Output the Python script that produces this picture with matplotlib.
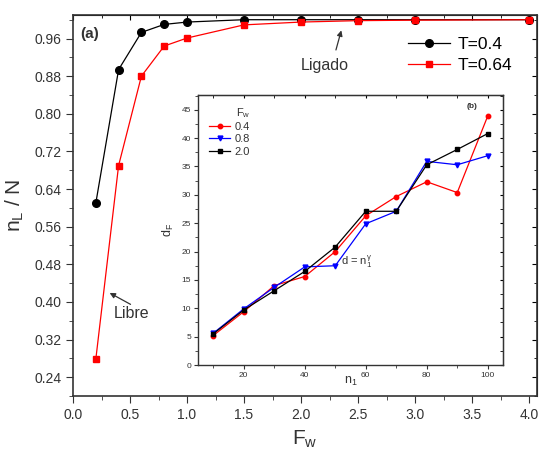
import matplotlib
matplotlib.use("Agg")
import matplotlib.pyplot as plt
from matplotlib.ticker import MultipleLocator

plt.rcParams['font.family'] = ['Liberation Sans', 'DejaVu Sans']
plt.rcParams['mathtext.default'] = 'regular'

# main panel: fraction of bound monomers vs force
fw = [0.2, 0.4, 0.6, 0.8, 1.0, 1.5, 2.0, 2.5, 3.0, 4.0]
nl_t04 = [0.61, 0.894, 0.973, 0.99, 0.995, 1.0, 1.0, 1.0, 1.0, 1.0]
nl_t064 = [0.278, 0.69, 0.88, 0.944, 0.961, 0.989, 0.995, 0.998, 0.999, 1.0]

# inset: d_F vs n_1 for several forces
n1 = [10, 20, 30, 40, 50, 60, 70, 80, 90, 100]
df_04 = [5.2, 9.4, 14.0, 15.6, 20.0, 26.3, 29.7, 32.3, 30.4, 43.9]
df_08 = [5.6, 9.9, 13.7, 17.3, 17.5, 24.9, 27.1, 35.9, 35.3, 36.9]
df_20 = [5.5, 9.7, 13.1, 16.5, 20.8, 27.1, 27.1, 35.3, 38.0, 40.8]

fig = plt.figure(figsize=(5.39, 4.51), dpi=100)
ax = fig.add_axes([73/539, 1-396/451, 464/539, 381/451])

ax.plot(fw, nl_t04, '-o', color='black', lw=0.9, ms=5.5, label='T=0.4')
ax.plot(fw, nl_t064, '-s', color='red', lw=0.9, ms=5, label='T=0.64')

ax.set_xlim(0, 4.07)
ax.set_ylim(0.2, 1.01)
ax.xaxis.set_major_locator(MultipleLocator(0.5))
ax.xaxis.set_minor_locator(MultipleLocator(0.25))
ax.yaxis.set_major_locator(MultipleLocator(0.08))
ax.yaxis.set_minor_locator(MultipleLocator(0.04))
ax.set_yticks([0.24, 0.32, 0.40, 0.48, 0.56, 0.64, 0.72, 0.80, 0.88, 0.96])
ax.tick_params(which='both', direction='out', labelsize=10, colors='#333333')
ax.tick_params(which='major', length=5)
ax.tick_params(which='minor', length=3)
for s in ax.spines.values():
    s.set_linewidth(1.2)
    s.set_color('#333333')

# inward ticks on top and right
axt = ax.secondary_xaxis('top')
axt.xaxis.set_major_locator(MultipleLocator(0.5))
axt.xaxis.set_minor_locator(MultipleLocator(0.25))
axt.tick_params(which='both', direction='in', labeltop=False)
axr = ax.secondary_yaxis('right')
axr.yaxis.set_major_locator(MultipleLocator(0.08))
axr.yaxis.set_minor_locator(MultipleLocator(0.04))
axr.tick_params(which='both', direction='in', labelright=False)

ax.set_xlabel('F$_w$', fontsize=15, color='#333333', labelpad=5)
ax.set_ylabel('n$_L$ / N', fontsize=15, color='#333333', labelpad=6)

ax.legend(loc='upper left', bbox_to_anchor=(396/539, 1-25/451),
          bbox_transform=fig.transFigure, frameon=False, fontsize=12.5,
          handlelength=2.4, handletextpad=0.45, labelspacing=0.3, borderpad=0.2)

ax.text(0.06, 0.97, '(a)', fontsize=11, fontweight='bold', va='center', color='#333333')
ax.text(2.21, 0.903, 'Ligado', fontsize=11.5, ha='center', va='center', color='#333333')
ax.annotate('', xy=(2.36, 0.983), xytext=(2.30, 0.930),
            arrowprops=dict(arrowstyle='-|>', color='#333333', lw=0.9, mutation_scale=8))
ax.text(0.51, 0.375, 'Libre', fontsize=11.5, ha='center', va='center', color='#333333')
ax.annotate('', xy=(0.30, 0.422), xytext=(0.526, 0.392),
            arrowprops=dict(arrowstyle='-|>', color='#333333', lw=0.9, mutation_scale=8))

# inset
ins = fig.add_axes([198/539, 1-365/451, 305/539, 270/451])
ins.plot(n1, df_04, '-o', color='red', lw=0.9, ms=3.2, label='0.4')
ins.plot(n1, df_08, '-v', color='blue', lw=0.9, ms=3.5, label='0.8')
ins.plot(n1, df_20, '-s', color='black', lw=0.9, ms=3, label='2.0')
ins.set_xlim(5, 105)
ins.set_ylim(0, 47.6)
ins.xaxis.set_major_locator(MultipleLocator(20))
ins.xaxis.set_minor_locator(MultipleLocator(10))
ins.yaxis.set_major_locator(MultipleLocator(5))
ins.yaxis.set_minor_locator(MultipleLocator(2.5))
ins.tick_params(which='both', direction='out', labelsize=6, colors='#333333', pad=2)
ins.tick_params(which='major', length=3)
ins.tick_params(which='minor', length=2)
for s in ins.spines.values():
    s.set_linewidth(1.0)
    s.set_color('#333333')
inst = ins.secondary_xaxis('top')
inst.xaxis.set_major_locator(MultipleLocator(20))
inst.xaxis.set_minor_locator(MultipleLocator(10))
inst.tick_params(which='both', direction='in', labeltop=False, length=2.5)
insr = ins.secondary_yaxis('right')
insr.yaxis.set_major_locator(MultipleLocator(5))
insr.yaxis.set_minor_locator(MultipleLocator(2.5))
insr.tick_params(which='both', direction='in', labelright=False, length=2.5)

ins.set_xlabel('n$_1$', fontsize=9, color='#333333', labelpad=-3)
ins.set_ylabel('d$_F$', fontsize=9, color='#333333', labelpad=4)
leg = ins.legend(loc='upper left', title='F$_w$', frameon=False, fontsize=8,
                 title_fontsize=8, handlelength=1.9, handletextpad=0.4,
                 labelspacing=0.2, borderaxespad=0.6, alignment='right')
leg.get_title().set_color('#333333')
for t in leg.get_texts():
    t.set_color('#333333')
ins.text(57, 18.2, 'd = n$_1^\\gamma$', fontsize=8, ha='center', va='center', color='#333333')
ins.text(94.8, 45.6, '(b)', fontsize=6, fontweight='bold', ha='center', va='center', color='#333333')

fig.savefig('out.png', dpi=100)
